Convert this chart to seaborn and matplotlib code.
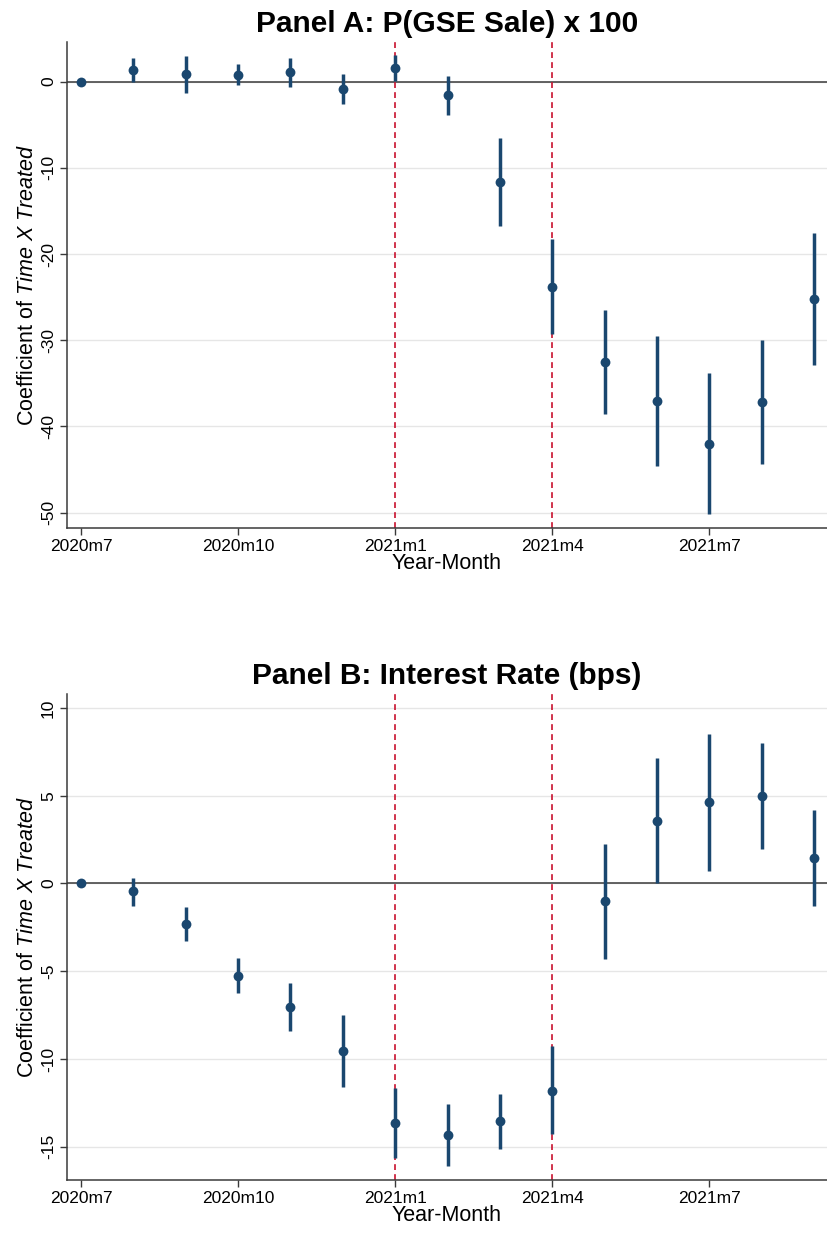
import numpy as np
import pandas as pd
import matplotlib
matplotlib.use('Agg')
import matplotlib.pyplot as plt
import seaborn as sns

sns.set_theme(style='white')
plt.rcParams['font.family'] = ['Liberation Sans', 'DejaVu Sans']
plt.rcParams['mathtext.fontset'] = 'custom'
plt.rcParams['mathtext.rm'] = 'Liberation Sans'
plt.rcParams['mathtext.it'] = 'Liberation Sans:italic'
plt.rcParams['text.color'] = 'black'
plt.rcParams['axes.labelcolor'] = 'black'
plt.rcParams['xtick.color'] = 'black'
plt.rcParams['ytick.color'] = 'black'

# ---- data ----
months = ['2020m7', '2020m8', '2020m9', '2020m10', '2020m11', '2020m12',
          '2021m1', '2021m2', '2021m3', '2021m4', '2021m5', '2021m6',
          '2021m7', '2021m8', '2021m9']
tick_months = ['2020m7', '2020m10', '2021m1', '2021m4', '2021m7']
event_months = ['2021m1', '2021m4']

# Panel A: P(GSE Sale) x 100
gse_coef = [0.0, 1.4, 0.85, 0.77, 1.1, -0.9, 1.6, -1.6, -11.6, -23.8,
            -32.5, -37.1, -42.0, -37.2, -25.2]
gse_lo = [np.nan, 0.0, -1.3, -0.4, -0.6, -2.6, 0.05, -3.9, -16.7, -29.3,
          -38.6, -44.6, -50.2, -44.4, -32.9]
gse_hi = [np.nan, 2.7, 3.0, 2.0, 2.7, 0.85, 3.1, 0.7, -6.5, -18.3,
          -26.5, -29.5, -33.8, -30.0, -17.6]

# Panel B: Interest Rate (bps)
rate_coef = [0.0, -0.45, -2.33, -5.26, -7.04, -9.54, -13.65, -14.35, -13.54,
             -11.8, -1.02, 3.56, 4.62, 5.0, 1.44]
rate_lo = [np.nan, -1.27, -3.25, -6.25, -8.41, -11.59, -15.64, -16.13, -15.15,
           -14.3, -4.3, 0.0, 0.74, 1.95, -1.29]
rate_hi = [np.nan, 0.34, -1.36, -4.26, -5.66, -7.52, -11.68, -12.55, -11.97,
           -9.28, 2.23, 7.16, 8.5, 8.03, 4.17]

navy = '#1a476f'
red = '#c8102e'

panels = [
    ('Panel A: P(GSE Sale) x 100', gse_coef, gse_lo, gse_hi,
     [-50, -40, -30, -20, -10, 0], (-51.8, 4.6)),
    ('Panel B: Interest Rate (bps)', rate_coef, rate_lo, rate_hi,
     [-15, -10, -5, 0, 5, 10], (-16.9, 10.8)),
]

fig = plt.figure(figsize=(8.27, 12.36), dpi=100)
ax_pos = [[0.081, 0.5728, 0.919, 0.3932], [0.081, 0.0453, 0.919, 0.3932]]

for pos, (title, coef, lo, hi, yticks, ylim) in zip(ax_pos, panels):
    ax = fig.add_axes(pos)
    df = pd.DataFrame({'month': months, 'coef': coef, 'lo': lo, 'hi': hi})
    df['x'] = np.arange(len(months))

    # reference lines
    ax.axhline(0, color='#3a3a3a', lw=1.1, zorder=1)
    for m in event_months:
        ax.axvline(months.index(m), color=red, lw=1.2, ls=(0, (3.5, 2.5)), zorder=1)

    # confidence intervals and point estimates
    ci = df.dropna()
    ax.vlines(ci['x'], ci['lo'], ci['hi'], color=navy, lw=2.5, zorder=2)
    sns.scatterplot(data=df, x='x', y='coef', ax=ax, color=navy, s=50,
                    edgecolor=navy, linewidth=0, zorder=3)

    ax.set_xlim(-0.27, len(months) - 1 + 0.25)
    ax.set_ylim(*ylim)
    ax.set_xticks([months.index(m) for m in tick_months])
    ax.set_xticklabels(tick_months, fontsize=12.5)
    ax.set_yticks(yticks)
    ax.set_yticklabels([str(v) for v in yticks], fontsize=12.5, rotation=90, va='center')
    ax.yaxis.grid(True, color='#e6e6e6', lw=1)
    ax.xaxis.grid(False)
    ax.set_axisbelow(True)
    for s in ['top', 'right']:
        ax.spines[s].set_visible(False)
    for s in ['left', 'bottom']:
        ax.spines[s].set_color('#3a3a3a')
        ax.spines[s].set_linewidth(1.1)
    ax.tick_params(axis='both', direction='out', length=5, width=1,
                   color='#3a3a3a', left=True, bottom=True, pad=3)
    ax.set_xlabel('Year-Month', fontsize=15.5, labelpad=-1)
    ax.set_ylabel(r'Coefficient of $\mathit{Time\ X\ Treated}$', fontsize=15.5, labelpad=2)
    ax.set_title(title, fontsize=21.5, fontweight='bold', pad=7)

fig.savefig('out.png', dpi=100)
